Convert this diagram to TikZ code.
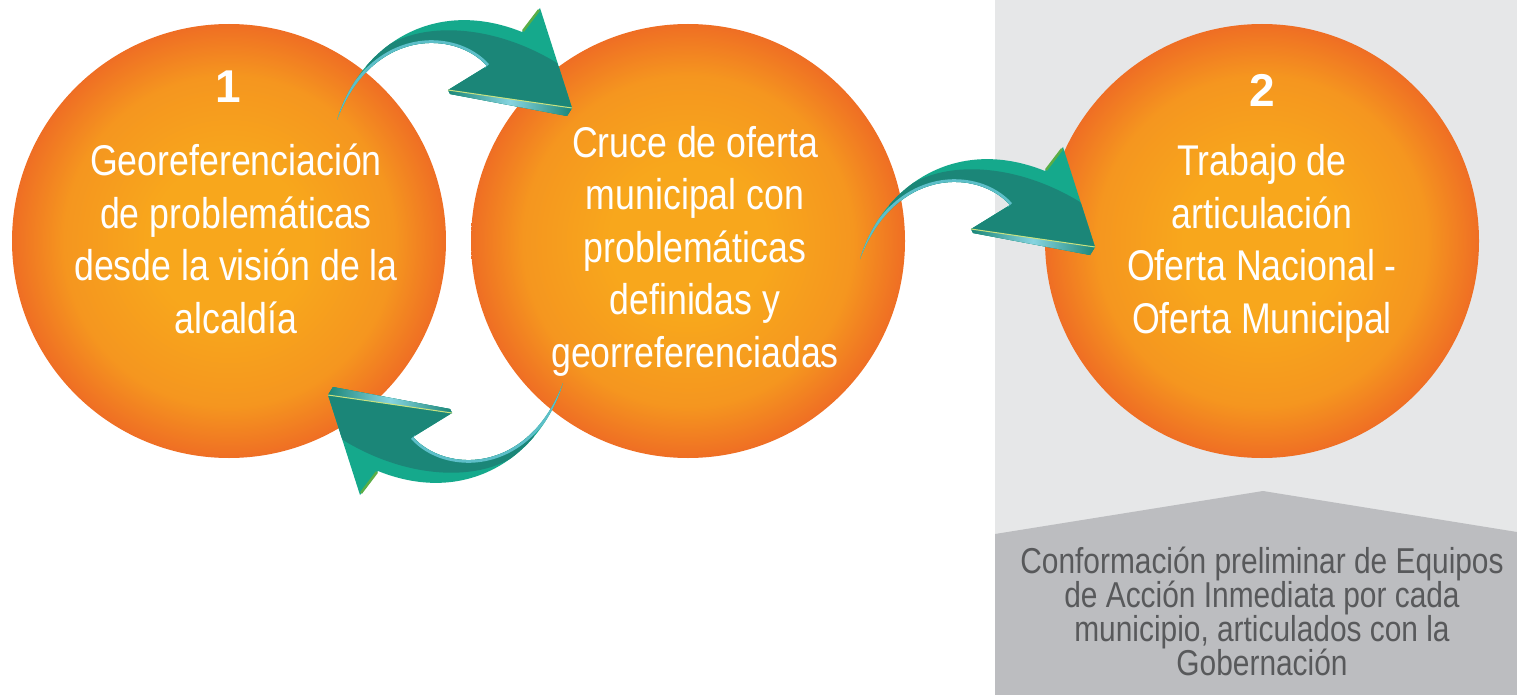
\documentclass[tikz,border=0pt]{standalone}
\usepackage{fontspec}
\setmainfont{Liberation Sans}[FakeStretch=0.83]
\newfontfamily\numfont{Liberation Sans}
\definecolor{orbA}{HTML}{F8A71C}
\definecolor{orbB}{HTML}{F5961F}
\definecolor{orbC}{HTML}{EF6E24}
\definecolor{panelbg}{HTML}{E6E7E8}
\definecolor{panelfg}{HTML}{BCBDC0}
\definecolor{paneltext}{HTML}{58595B}
\definecolor{tealL}{HTML}{15A98C}
\definecolor{tealD}{HTML}{1B8678}
\definecolor{stripL}{HTML}{86D4E0}
\definecolor{stripB}{HTML}{5DBFC9}
\definecolor{limeline}{HTML}{C9E27F}
\definecolor{greenedge}{HTML}{5AAE46}
\pgfdeclareradialshading{orb}{\pgfpoint{0bp}{0bp}}{color(0bp)=(orbA); color(9bp)=(orbA); color(19bp)=(orbB); color(25bp)=(orbC); color(50bp)=(orbC)}
\def\arrowoutline{(337,120) .. controls (358,50) and (430,-5) .. (522,32) -- (540,8) -- (572,108) -- (567,116) -- (450,94) -- (448,90) -- (487,66) .. controls (455,30) and (372,28) .. cycle}
\newcommand\tealarrow{%
  \fill[tealL] \arrowoutline;
  \begin{scope}
    \clip \arrowoutline;
    \fill[tealD] (366,66) .. controls (395,22) and (480,16) .. (557,63) -- (610,150) -- (366,150) -- cycle;
    \draw[stripB, line width=5.5pt] (487,66) .. controls (455,30) and (372,28) .. (337,120);
  \end{scope}
  \shade[left color=tealD, right color=tealD, middle color=stripL] (448,90) -- (572,108) -- (567,116) -- (450,94) -- cycle;
  \draw[limeline, line width=1pt] (448,90) -- (572,108);
  \draw[greenedge, line width=2.5pt] (523,31) -- (539,10);
}
\tikzset{
  orbnode/.style={circle, minimum size=434pt, inner sep=0pt, shade, shading=orb},
  circtext/.style={text=white, align=center, inner sep=0pt, font=\fontsize{43}{52.5}\selectfont},
  numtext/.style={text=white, inner sep=0pt, font=\numfont\bfseries\fontsize{46}{46}\selectfont},
  paneltxt/.style={text=paneltext, align=center, inner sep=0pt, font=\fontsize{36}{34}\selectfont}
}
\begin{document}
\begin{tikzpicture}[x=1pt,y=-1pt]
\useasboundingbox (0,0) rectangle (1517,695);
\fill[white] (0,0) rectangle (1517,695);
\fill[panelbg] (995,0) rectangle (1517,695);
\fill[panelfg] (995,534) -- (1263,491) -- (1517,532) -- (1517,695) -- (995,695) -- cycle;
\node[orbnode] (c1) at (229,241) {};
\node[orbnode] (c2) at (688,241) {};
\node[orbnode] (c3) at (1262,241) {};
\tealarrow
\begin{scope}[shift={(900,503)}, rotate=180]
\tealarrow
\end{scope}
\begin{scope}[shift={(523,139)}]
\tealarrow
\end{scope}
\node[numtext, anchor=base] (n1) at (228,103) {1};
\node[numtext, anchor=base] (n2) at (1262,107) {2};
\node[circtext, anchor=base] (t1) at (236,333) {Georeferenciación\\de problemáticas\\desde la visión de la\\alcaldía};
\node[circtext, anchor=base] (t2) at (695,367) {Cruce de oferta\\municipal con\\problemáticas\\definidas y\\georreferenciadas};
\node[circtext, anchor=base] (t3) at (1262,333) {Trabajo de\\articulación\\Oferta Nacional -\\Oferta Municipal};
\node[paneltxt, anchor=base] (p1) at (1262,675) {Conformación preliminar de Equipos\\de Acción Inmediata por cada\\municipio, articulados con la\\Gobernación};
\end{tikzpicture}
\end{document}
